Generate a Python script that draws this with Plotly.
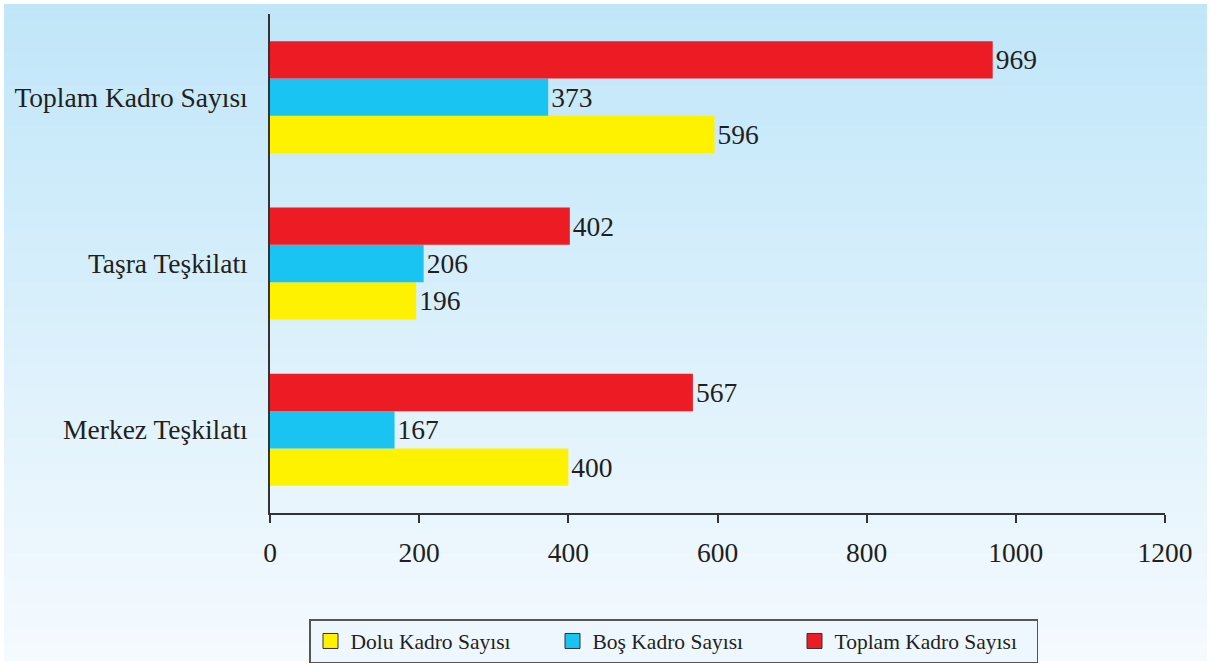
import plotly.graph_objects as go

categories = ["Merkez Teşkilatı", "Taşra Teşkilatı", "Toplam Kadro Sayısı"]
dolu = [400, 196, 596]
bos = [167, 206, 373]
toplam = [567, 402, 969]
series_names = ["Dolu Kadro Sayısı", "Boş Kadro Sayısı", "Toplam Kadro Sayısı"]
colors = ["#FFF200", "#19C3F2", "#ED1C24"]
x_ticks = [0, 200, 400, 600, 800, 1000, 1200]

FONT = "Liberation Serif"
TXT = "#231F20"
FS = 27.5

fig = go.Figure()
for name, vals, col in zip(series_names, [dolu, bos, toplam], colors):
    fig.add_trace(go.Bar(
        y=categories, x=vals, name=name, orientation="h",
        marker=dict(color=col, line=dict(width=0)),
        text=[str(v) for v in vals], textposition="outside",
        textfont=dict(family=FONT, size=FS, color=TXT),
        cliponaxis=False, showlegend=False,
    ))
# legend entries with bordered square swatches
for name, col in zip(series_names, colors):
    fig.add_trace(go.Scatter(
        x=[None], y=[None], mode="markers", name=name,
        marker=dict(symbol="square", size=15, color=col,
                    line=dict(color="#333333", width=1)),
        showlegend=True, hoverinfo="skip",
    ))

W, H = 1211, 665
L, R, T, B = 270, 46, 14, 152
pw, ph = W - L - R, H - T - B

def px2paper_x(px):
    return (px - L) / pw

def px2paper_y(py):
    return (H - B - py) / ph

# vertical gradient background
shapes = []
n = 80
top_c = (192, 230, 249)
bot_c = (245, 250, 254)
y0px, y1px = 4, 661
for i in range(n):
    t = i / (n - 1)
    c = tuple(int(round(top_c[k] + (bot_c[k] - top_c[k]) * t)) for k in range(3))
    ya = y0px + (y1px - y0px) * i / n
    yb = y0px + (y1px - y0px) * (i + 1) / n + 0.6
    shapes.append(dict(
        type="rect", xref="paper", yref="paper", layer="below",
        x0=px2paper_x(4), x1=px2paper_x(1207),
        y0=px2paper_y(yb), y1=px2paper_y(ya),
        fillcolor="rgb(%d,%d,%d)" % c, line=dict(width=0),
    ))

fig.update_layout(
    width=W, height=H,
    margin=dict(l=L, r=R, t=T, b=B, autoexpand=False),
    paper_bgcolor="white",
    plot_bgcolor="rgba(0,0,0,0)",
    barmode="group", bargap=0.327, bargroupgap=0,
    shapes=shapes,
    font=dict(family=FONT, color=TXT),
    xaxis=dict(
        range=[0, 1200], tickvals=x_ticks, ticktext=[str(v) for v in x_ticks],
        showgrid=False, zeroline=False,
        showline=True, linecolor="#333333", linewidth=1.5,
        ticks="outside", ticklen=8, tickwidth=1.5, tickcolor="#333333",
        tickfont=dict(family=FONT, size=FS, color=TXT),
        ticklabelstandoff=6, fixedrange=True, automargin=False,
    ),
    yaxis=dict(
        showgrid=False, zeroline=False,
        showline=True, linecolor="#333333", linewidth=1.5,
        ticks="", tickfont=dict(family=FONT, size=FS, color=TXT),
        ticklabelstandoff=15, fixedrange=True, automargin=False,
    ),
    legend=dict(
        orientation="h", traceorder="normal",
        x=px2paper_x(309), xanchor="left",
        y=px2paper_y(663), yanchor="bottom",
        bgcolor="#EEF7FD", bordercolor="#555555", borderwidth=1.5,
        font=dict(family=FONT, size=21.5, color=TXT),
        entrywidth=197, itemwidth=30,
    ),
    showlegend=True,
)

fig.write_html("out.html", config={"displayModeBar": False},
               post_script="document.body.style.margin='0';")
